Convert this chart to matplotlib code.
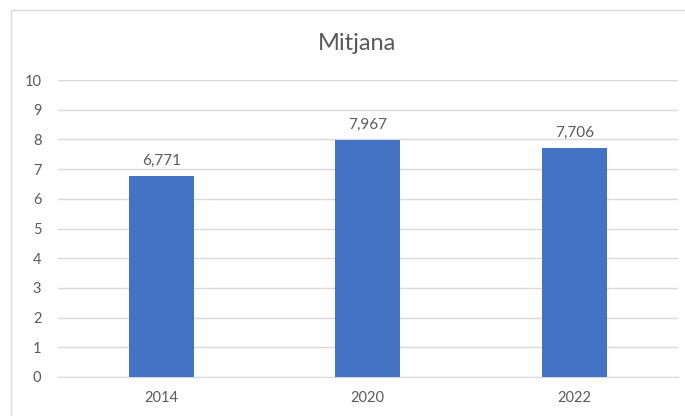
import matplotlib.pyplot as plt
from matplotlib.patches import Rectangle

years = ["2014", "2020", "2022"]
values = [6.771, 7.967, 7.706]
labels = ["6,771", "7,967", "7,706"]

plt.rcParams['font.family'] = ['Lato', 'DejaVu Sans']
text_color = "#595959"
grid_color = "#d9d9d9"

fig = plt.figure(figsize=(6.85, 4.16), dpi=100)
fig.patches.append(Rectangle((11 / 685, -0.2), 1.0, 1.2 - 10 / 416, transform=fig.transFigure,
                             fill=False, edgecolor=grid_color, linewidth=1))

ax = fig.add_axes([58 / 685, 1 - 377 / 416, (677.5 - 58) / 685, (377 - 80) / 416])
x = range(len(years))
bars = ax.bar(x, values, width=0.315, color="#4472C4", zorder=3)
for b, lab in zip(bars, labels):
    ax.annotate(lab, (b.get_x() + b.get_width() / 2, b.get_height()), xytext=(0, 6),
                textcoords="offset points", ha="center", va="bottom", fontsize=11, color=text_color)

ax.set_xlim(-0.5, 2.5)
ax.set_ylim(0, 10)
ax.set_yticks(range(0, 11))
ax.set_xticks(list(x))
ax.set_xticklabels(years)
ax.grid(axis="y", color=grid_color, linewidth=1, zorder=0)
for s in ["top", "right", "left"]:
    ax.spines[s].set_visible(False)
ax.spines["bottom"].set_color(grid_color)
ax.tick_params(length=0, labelsize=10.5, colors=text_color)
ax.tick_params(axis="y", pad=12)
ax.tick_params(axis="x", pad=10)

fig.text(357 / 685, 1 - 43 / 416, "Mitjana", ha="center", va="center", fontsize=17, color=text_color)

fig.savefig("out.png", dpi=100)
